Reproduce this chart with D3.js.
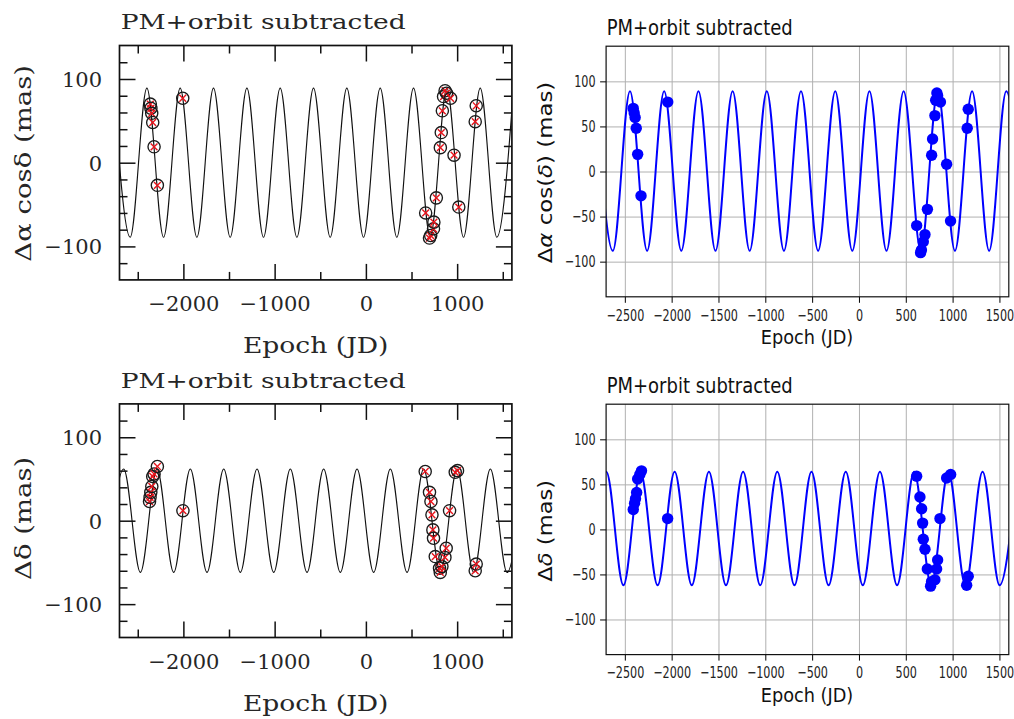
<!DOCTYPE html>
<html><head><meta charset="utf-8">
<script src="https://cdn.jsdelivr.net/npm/d3@7"></script>
<style>body{margin:0;background:#fff}svg{display:block}</style>
</head><body>
<svg id="c" width="1014" height="719"></svg>
<script>
// ---------------- DATA ----------------
const epochDomain = [-2700, 1600];
const leftMajorX = [-2000, -1000, 0, 1000];
const leftMinorX = [-2500, -1500, -500, 500, 1500];
const leftMajorY = [-100, 0, 100];
const leftMinorY = [-120, -80, -60, -40, -20, 20, 40, 60, 80, 120];
const rightTicksX = [-2500, -2000, -1500, -1000, -500, 0, 500, 1000, 1500];
const rightTicksY = [-100, -50, 0, 50, 100];

const titleText = "PM+orbit subtracted";
const xLabelText = "Epoch (JD)";

// model curve extrema (epoch, mas)
const raLeftModel = [[-2765,89],[-2583,-89],[-2400,89],[-2217,-89],[-2035,89],[-1852,-89],[-1670,89],[-1487,-89],[-1304,89],[-1122,-89],[-939,89],[-756,-89],[-574,89],[-391,-89],[-209,89],[-26,-89],[157,89],[339,-89],[522,89],[705,-89],[887,89],[1070,-89],[1253,89],[1435,-89],[1618,89]];
const decLeftModel = [[-2837,-62],[-2654,62],[-2471,-62],[-2289,62],[-2106,-62],[-1924,62],[-1741,-62],[-1558,62],[-1376,-62],[-1193,62],[-1010,-62],[-828,62],[-645,-62],[-463,62],[-280,-62],[-97,62],[85,-62],[268,62],[451,-62],[633,62],[816,-62],[999,62],[1181,-62],[1364,62],[1547,-62],[1729,62]];
const raRightModel = [[-2810,89],[-2628,-88],[-2445,89],[-2262,-88],[-2080,89],[-1897,-88],[-1714,89],[-1532,-88],[-1349,89],[-1167,-88],[-984,89],[-801,-88],[-619,89],[-436,-88],[-253,89],[-71,-88],[112,89],[294,-88],[477,89],[660,-88],[842,89],[1025,-88],[1208,89],[1390,-88],[1573,89],[1755,-88]];
const decRightModel = [[-2881,-62],[-2698,64],[-2515,-62],[-2333,64],[-2150,-62],[-1968,64],[-1785,-62],[-1602,64],[-1420,-62],[-1237,64],[-1054,-62],[-872,64],[-689,-62],[-507,64],[-324,-62],[-141,64],[41,-62],[224,64],[407,-62],[589,64],[772,-62],[955,64],[1137,-62],[1320,64],[1502,-62],[1685,64]];

// measurements (epoch, mas)
const raLeftPoints = [[-2362,70],[-2356,65],[-2347,59],[-2336,48],[-2321,19],[-2285,-27],[-2007,77],[655,-60],[697,-90],[710,-87],[741,-79],[745,-71],[772,-42],[816,18],[826,36],[838,62],[851,79],[868,86],[884,83],[928,77],[966,9],[1018,-53],[1198,49],[1209,68]];
const decLeftPoints = [[-2371,23],[-2365,28],[-2357,34],[-2346,41],[-2336,53],[-2321,56],[-2285,65],[-2005,12],[650,59],[697,34],[713,23],[724,7],[734,-11],[741,-21],[760,-43],[807,-57],[815,-62],[833,-55],[866,-44],[880,-33],[917,12],[979,58],[1004,60],[1198,-60],[1209,-52]];
const raRightPoints = [[-2410,70],[-2400,65],[-2390,60],[-2378,48],[-2363,19],[-2327,-27],[-2042,77],[616,-60],[658,-90],[667,-87],[687,-78],[705,-70],[731,-42],[776,18],[786,36],[811,62],[819,79],[832,87],[840,84],[870,77],[936,8],[978,-55],[1156,48],[1167,69]];
const decRightPoints = [[-2410,22],[-2396,29],[-2386,34],[-2374,41],[-2363,56],[-2340,61],[-2322,65],[-2043,12],[616,59],[651,36],[669,23],[680,7],[687,-11],[705,-22],[730,-44],[765,-63],[775,-58],[811,-56],[829,-44],[840,-34],[865,12],[936,57],[979,61],[1150,-62],[1167,-52]];

// ---------------- DRAWING ----------------
const svg = d3.select("#c");
let clipId = 0;
const fmt = d3.format("d");

function makeClip(x0, y0, x1, y1) {
  const id = "clip" + (clipId++);
  svg.append("clipPath").attr("id", id).append("rect")
    .attr("x", x0).attr("y", y0).attr("width", x1 - x0).attr("height", y1 - y0);
  return "url(#" + id + ")";
}

function drawLeft(c) {
  const x = d3.scaleLinear().domain(epochDomain).range([c.x0, c.x1]);
  const y = d3.scaleLinear().domain([-140, 140]).range([c.y1, c.y0]);
  const g = svg.append("g");
  const font = "'DejaVu Serif', serif";
  const ink = "#262626";
  const clip = makeClip(c.x0, c.y0, c.x1, c.y1);
  g.append("path").datum(c.model)
    .attr("clip-path", clip)
    .attr("fill", "none").attr("stroke", "#111").attr("stroke-width", 1.15)
    .attr("d", d3.line().x(d => x(d[0])).y(d => y(d[1])).curve(d3.curveMonotoneX));

  const m = g.append("g").selectAll("g").data(c.pts).join("g")
    .attr("transform", d => `translate(${x(d[0])},${y(d[1])})`);
  m.append("circle").attr("r", 6.1).attr("fill", "none").attr("stroke", "#1a1a1a").attr("stroke-width", 1.35);
  m.append("path").attr("d", "M-3.4,-3.4L3.4,3.4M-3.4,3.4L3.4,-3.4")
    .attr("stroke", "#e8141c").attr("stroke-width", 1.4).attr("fill", "none");

  const strip = s => s.select(".domain").remove();
  const tickStyle = s => s.selectAll("line").attr("stroke", "#111").attr("stroke-width", 1.5);
  g.append("g").attr("transform", `translate(0,${c.y1})`)
    .call(d3.axisBottom(x).tickValues(leftMajorX).tickSize(-16).tickPadding(16.5).tickFormat(fmt))
    .call(strip).call(tickStyle)
    .call(s => s.selectAll("text").attr("font-family", font).attr("font-size", 21).attr("fill", ink));
  g.append("g").attr("transform", `translate(0,${c.y1})`)
    .call(d3.axisBottom(x).tickValues(leftMinorX).tickSize(-8).tickFormat(""))
    .call(strip).call(tickStyle);
  g.append("g").attr("transform", `translate(0,${c.y0})`)
    .call(d3.axisTop(x).tickValues(leftMajorX).tickSize(-16).tickFormat(""))
    .call(strip).call(tickStyle);
  g.append("g").attr("transform", `translate(0,${c.y0})`)
    .call(d3.axisTop(x).tickValues(leftMinorX).tickSize(-8).tickFormat(""))
    .call(strip).call(tickStyle);
  g.append("g").attr("transform", `translate(${c.x0},0)`)
    .call(d3.axisLeft(y).tickValues(leftMajorY).tickSize(-16).tickPadding(17.5).tickFormat(fmt))
    .call(strip).call(tickStyle)
    .call(s => s.selectAll("text").attr("font-family", font).attr("font-size", 21).attr("fill", ink).attr("dy", "0.36em"));
  g.append("g").attr("transform", `translate(${c.x0},0)`)
    .call(d3.axisLeft(y).tickValues(leftMinorY).tickSize(-8).tickFormat(""))
    .call(strip).call(tickStyle);
  g.append("g").attr("transform", `translate(${c.x1},0)`)
    .call(d3.axisRight(y).tickValues(leftMajorY).tickSize(-16).tickFormat(""))
    .call(strip).call(tickStyle);
  g.append("g").attr("transform", `translate(${c.x1},0)`)
    .call(d3.axisRight(y).tickValues(leftMinorY).tickSize(-8).tickFormat(""))
    .call(strip).call(tickStyle);

  g.append("rect").attr("x", c.x0).attr("y", c.y0).attr("width", c.x1 - c.x0).attr("height", c.y1 - c.y0)
    .attr("fill", "none").attr("stroke", "#111").attr("stroke-width", 1.7);

  g.append("text").text(titleText).attr("x", 120.7).attr("y", c.titleY)
    .attr("font-family", font).attr("font-size", 21).attr("fill", ink)
    .attr("textLength", 285).attr("lengthAdjust", "spacingAndGlyphs");
  g.append("text").text(xLabelText).attr("x", (c.x0 + c.x1) / 2).attr("y", c.xlabY)
    .attr("text-anchor", "middle").attr("font-family", font).attr("font-size", 22).attr("fill", ink)
    .attr("textLength", 145.6).attr("lengthAdjust", "spacingAndGlyphs");
  g.append("text").text(c.ylabel)
    .attr("transform", `translate(31,${c.ylabC}) rotate(-90)`)
    .attr("text-anchor", "middle").attr("font-family", font).attr("font-size", 22).attr("fill", ink)
    .attr("textLength", c.ylabLen).attr("lengthAdjust", "spacingAndGlyphs");
}

function drawRight(c) {
  const x = d3.scaleLinear().domain(epochDomain).range([c.x0, c.x1]);
  const y = d3.scaleLinear().domain([-139, 139]).range([c.y1, c.y0]);
  const g = svg.append("g");
  const font = "'DejaVu Sans', sans-serif";
  const strip = s => s.select(".domain").remove();
  g.append("g").attr("transform", `translate(0,${c.y1})`)
    .call(d3.axisBottom(x).tickValues(rightTicksX).tickSize(-(c.y1 - c.y0)).tickFormat(""))
    .call(strip).call(s => s.selectAll("line").attr("stroke", "#b0b0b0").attr("stroke-width", 1));
  g.append("g").attr("transform", `translate(${c.x0},0)`)
    .call(d3.axisLeft(y).tickValues(rightTicksY).tickSize(-(c.x1 - c.x0)).tickFormat(""))
    .call(strip).call(s => s.selectAll("line").attr("stroke", "#b0b0b0").attr("stroke-width", 1));

  const clip = makeClip(c.x0, c.y0, c.x1, c.y1);
  g.append("path").datum(c.model)
    .attr("clip-path", clip)
    .attr("fill", "none").attr("stroke", "#0000ff").attr("stroke-width", 2)
    .attr("d", d3.line().x(d => x(d[0])).y(d => y(d[1])).curve(d3.curveMonotoneX));
  g.append("g").selectAll("circle").data(c.pts).join("circle")
    .attr("cx", d => x(d[0])).attr("cy", d => y(d[1])).attr("r", 5.7).attr("fill", "#0000ff");

  const sx = 0.7;
  g.append("g").attr("transform", `translate(0,${c.y1})`)
    .call(d3.axisBottom(x).tickValues(rightTicksX).tickSize(6).tickPadding(6.5).tickFormat(fmt))
    .call(strip).call(s => s.selectAll("line").attr("stroke", "#000"))
    .call(s => s.selectAll("text").attr("font-family", font).attr("font-size", 16).attr("fill", "#222")
      .attr("transform", `scale(${sx},1)`));
  g.append("g").attr("transform", `translate(${c.x0},0)`)
    .call(d3.axisLeft(y).tickValues(rightTicksY).tickSize(6).tickFormat(fmt))
    .call(strip).call(s => s.selectAll("line").attr("stroke", "#000"))
    .call(s => s.selectAll("text").attr("font-family", font).attr("font-size", 16).attr("fill", "#222")
      .attr("x", -10.5 / sx).attr("transform", `scale(${sx},1)`));

  g.append("rect").attr("x", c.x0).attr("y", c.y0).attr("width", c.x1 - c.x0).attr("height", c.y1 - c.y0)
    .attr("fill", "none").attr("stroke", "#111").attr("stroke-width", 1.2);

  g.append("text").text(titleText).attr("x", 606.7).attr("y", c.titleY)
    .attr("font-family", font).attr("font-size", 21.5).attr("fill", "#111")
    .attr("textLength", 186).attr("lengthAdjust", "spacingAndGlyphs");
  g.append("text").text(xLabelText).attr("x", 807).attr("y", c.xlabY)
    .attr("text-anchor", "middle").attr("font-family", font).attr("font-size", 19).attr("fill", "#111")
    .attr("textLength", 92.6).attr("lengthAdjust", "spacingAndGlyphs");
  const yl = g.append("text")
    .attr("transform", `translate(552,${c.ylabC}) rotate(-90)`)
    .attr("text-anchor", "middle").attr("font-family", font).attr("font-size", 19).attr("fill", "#111")
    .attr("textLength", c.ylabLen).attr("lengthAdjust", "spacingAndGlyphs");
  c.ylabParts.forEach(p => yl.append("tspan").text(p[0]).attr("font-style", p[1] ? "italic" : "normal"));
}

drawLeft({x0: 119.5, x1: 511.9, y0: 45.5, y1: 279.9, model: raLeftModel, pts: raLeftPoints,
  titleY: 29.3, xlabY: 352.5, ylabel: "Δα cosδ (mas)", ylabC: 163.3, ylabLen: 196.7});
drawLeft({x0: 119.5, x1: 511.9, y0: 403.9, y1: 637.5, model: decLeftModel, pts: decLeftPoints,
  titleY: 387.8, xlabY: 710.5, ylabel: "Δδ (mas)", ylabC: 518.3, ylabLen: 123.3});
drawRight({x0: 606.1, x1: 1008.8, y0: 46.2, y1: 296.8, model: raRightModel, pts: raRightPoints,
  titleY: 35, xlabY: 343.5, ylabC: 172.5, ylabLen: 181.6,
  ylabParts: [["Δ", false], ["α", true], [" cos(", false], ["δ", true], [") (mas)", false]]});
drawRight({x0: 606.1, x1: 1008.8, y0: 404.2, y1: 654.6, model: decRightModel, pts: decRightPoints,
  titleY: 393.3, xlabY: 702.3, ylabC: 530.8, ylabLen: 101.7,
  ylabParts: [["Δ", false], ["δ", true], [" (mas)", false]]});
</script>
</body></html>
